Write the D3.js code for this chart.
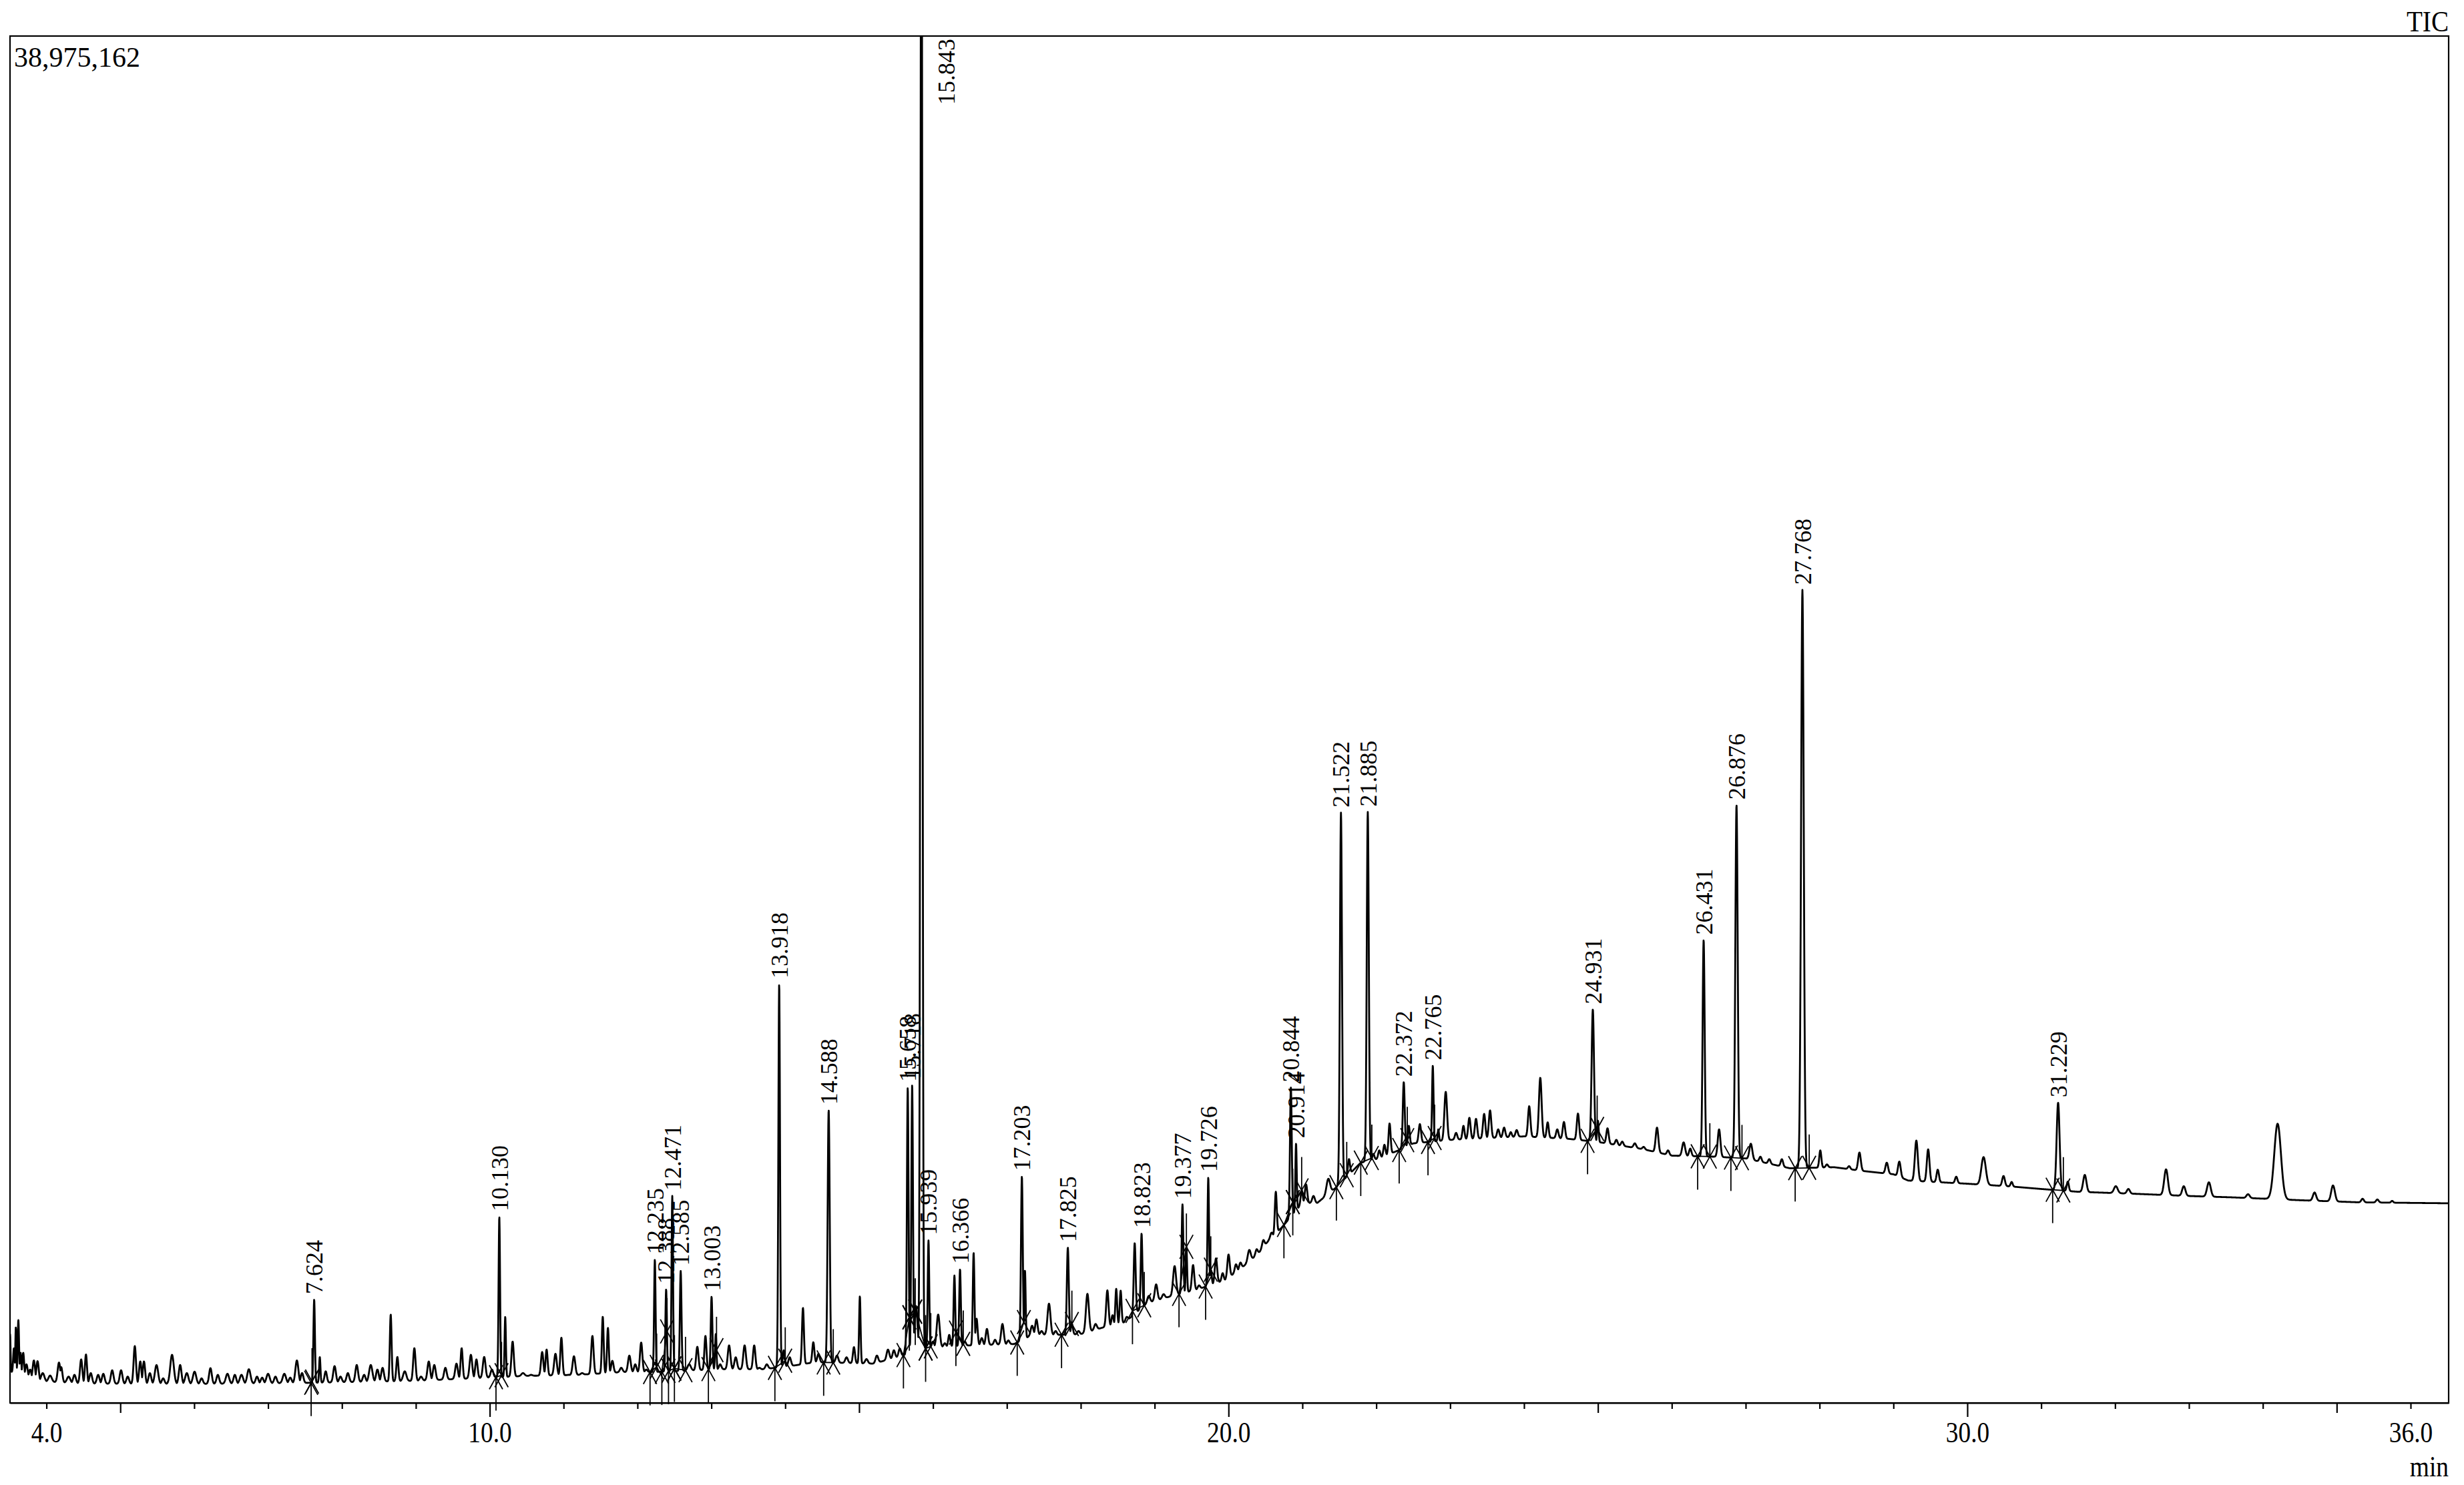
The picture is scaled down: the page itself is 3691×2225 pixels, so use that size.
<!DOCTYPE html>
<html>
<head>
<meta charset="utf-8">
<script src="https://cdn.jsdelivr.net/npm/d3@7"></script>
<style>
  html, body { margin: 0; padding: 0; background: #fff; }
  svg { display: block; font-family: "Liberation Serif", "Times New Roman", serif; }
</style>
</head>
<body>
<svg id="chart" width="3691" height="2225"></svg>
<script>
// TIC chromatogram, time in min, intensity in millions of counts

const fullScale = 38975162
const timeRange = [3.507, 36.515]
const tickLabels = [4, 10, 20, 30, 36]

const baseTimes = [3.5, 3.7, 3.9, 4.5, 6.0, 7.5, 9.0, 10.5, 11.2, 11.8, 12.2, 13.1, 13.7, 14.1, 14.4,
  15.2, 15.5, 15.95, 16.5, 17.1, 17.35, 17.7, 18.0, 18.3, 18.6, 18.9, 19.15, 19.6, 19.95, 20.15,
  20.4, 20.55, 20.72, 21.0, 21.2, 21.46, 21.79, 22.0, 22.3, 22.5, 23.0, 24.0, 24.6, 25.0, 25.3,
  25.6, 26.0, 26.6, 27.0, 27.6, 28.2, 28.6, 29.0, 29.2, 30.0, 30.6, 31.0, 31.5, 32.3, 33.0,
  33.6, 34.5, 35.3, 36.6]
const baseLevels = [0.9, 0.75, 0.62, 0.55, 0.54, 0.57, 0.63, 0.77, 0.8, 0.88, 0.88, 0.96, 0.96, 1.06, 1.16,
  1.12, 1.3, 1.58, 1.64, 1.68, 1.95, 1.94, 1.96, 2.15, 2.3, 2.85, 3.0, 3.25, 3.5, 3.8,
  4.25, 4.65, 5.0, 5.7, 5.7, 6.15, 6.85, 6.95, 7.2, 7.4, 7.5, 7.6, 7.53, 7.44, 7.34,
  7.24, 7.05, 7.02, 6.97, 6.69, 6.72, 6.61, 6.52, 6.34, 6.25, 6.17, 6.1, 6.02, 5.96, 5.9,
  5.86, 5.78, 5.72, 5.69]

// peaks: [retention time, apex level, width (sigma, min)]
const peakRows = [
  [3.507, 1.97, .007], [3.56, 1.56, .01], [3.586, 2.16, .007], [3.62, 2.37, .009], [3.65, 1.43, .01],
  [3.686, 1.43, .012], [3.73, 1.1, .016], [3.78, 0.95, .016], [3.83, 1.21, .016], [3.88, 1.19, .016],
  [3.95, 0.85, .022], [4.05, 0.78, .022], [4.17, 1.15, .018], [4.20, 1.02, .016], [4.30, 0.75, .022],
  [4.38, 0.8, .018], [4.47, 1.24, .016], [4.535, 1.38, .014], [4.60, 0.85, .018], [4.70, 0.8, .018],
  [4.77, 0.83, .018], [4.89, 0.93, .018], [5.01, 0.93, .018], [5.10, 0.75, .018], [5.196, 1.62, .016],
  [5.27, 1.18, .016], [5.32, 1.18, .016], [5.40, 0.85, .018], [5.49, 1.08, .022], [5.58, 0.7, .018],
  [5.70, 1.37, .024], [5.81, 1.08, .018], [5.90, 0.85, .022], [6.005, 0.89, .022], [6.10, 0.7, .018],
  [6.22, 0.99, .018], [6.32, 0.8, .018], [6.45, 0.83, .022], [6.55, 0.8, .018], [6.64, 0.8, .022],
  [6.74, 0.96, .022], [6.85, 0.75, .018], [6.92, 0.72, .018], [7.00, 0.83, .022], [7.10, 0.75, .018],
  [7.22, 0.83, .022], [7.30, 0.72, .018], [7.39, 1.21, .02], [7.46, 0.85, .018], [7.624, 2.95, .01],
  [7.70, 1.31, .009], [7.78, 0.9, .016], [7.90, 1.05, .018], [7.98, 0.75, .018], [8.08, 0.85, .018],
  [8.20, 1.08, .018], [8.30, 0.8, .018], [8.39, 1.08, .022], [8.48, 0.95, .018], [8.55, 1.0, .018],
  [8.66, 2.52, .012], [8.75, 1.31, .014], [8.85, 0.9, .022], [8.98, 1.56, .016],
  [9.07, 0.75, .018], [9.175, 1.18, .018], [9.25, 1.08, .018], [9.40, 1.0, .018], [9.55, 1.12, .018],
  [9.62, 1.56, .014], [9.745, 1.37, .018], [9.82, 1.24, .016], [9.925, 1.31, .018], [10.03, 0.95, .018],
  [10.130, 5.31, .01], [10.21, 2.46, .009], [10.31, 1.75, .016], [10.45, 0.85, .022], [10.56, 0.8, .018],
  [10.71, 1.45, .016], [10.77, 1.52, .014], [10.89, 1.40, .018], [10.97, 1.86, .014], [11.07, 0.8, .018],
  [11.14, 1.33, .018], [11.25, 0.85, .018], [11.39, 1.91, .016], [11.53, 2.46, .012], [11.60, 2.14, .012],
  [11.66, 1.2, .016], [11.78, 1.0, .018], [11.89, 1.35, .018], [11.97, 1.1, .016], [12.05, 1.72, .016],
  [12.12, 0.95, .016], [12.235, 4.09, .01], [12.388, 3.24, .01], [12.471, 5.90, .01], [12.585, 3.76, .011],
  [12.70, 1.1, .022], [12.81, 1.6, .016], [12.92, 1.91, .014], [13.003, 3.03, .011], [13.06, 1.97, .009],
  [13.12, 1.1, .016], [13.24, 1.64, .018], [13.33, 1.3, .018], [13.45, 1.64, .018], [13.58, 1.64, .016],
  [13.65, 1.0, .016], [13.75, 1.1, .018], [13.918, 11.95, .011], [13.98, 1.5, .014], [14.06, 1.3, .018],
  [14.24, 2.71, .013], [14.38, 1.73, .014], [14.45, 1.4, .016],
  [14.588, 8.35, .014], [14.70, 1.35, .018], [14.83, 1.3, .018], [14.93, 1.59, .014], [15.01, 3.04, .01],
  [15.10, 1.25, .018], [15.24, 1.35, .018], [15.39, 1.52, .018], [15.47, 1.5, .016], [15.55, 1.55, .016],
  [15.658, 9.0, .011], [15.718, 9.08, .011], [15.77, 2.76, .02], [15.843, 48.0, .013], [15.939, 4.63, .01],
  [16.00, 1.75, .016], [16.07, 2.52, .02], [16.16, 1.7, .016], [16.22, 1.94, .014], [16.29, 3.63, .011],
  [16.366, 3.81, .011], [16.43, 1.75, .016], [16.55, 4.28, .011], [16.59, 2.4, .014], [16.66, 1.85, .016],
  [16.73, 2.11, .016], [16.84, 1.8, .016], [16.94, 2.25, .018], [17.02, 1.78, .016], [17.203, 6.46, .012],
  [17.245, 3.78, .009], [17.34, 2.2, .018], [17.40, 2.38, .016], [17.47, 2.05, .016], [17.57, 2.83, .02],
  [17.66, 2.05, .016], [17.825, 4.43, .013], [17.88, 2.25, .014], [17.97, 2.05, .016], [18.09, 3.11, .02],
  [18.20, 2.25, .018], [18.36, 3.21, .016], [18.43, 2.5, .014], [18.48, 3.25, .012], [18.54, 3.2, .012],
  [18.62, 2.45, .016], [18.73, 4.56, .013], [18.823, 4.83, .011], [18.92, 3.05, .018], [19.02, 3.38, .018],
  [19.12, 3.1, .018], [19.27, 3.9, .02], [19.377, 5.66, .011], [19.43, 4.45, .009], [19.52, 3.93, .016],
  [19.60, 3.35, .016], [19.726, 6.43, .01], [19.76, 3.8, .012],
  [19.83, 4.12, .016], [19.92, 3.7, .014], [20.0, 4.23, .016], [20.10, 3.95, .016], [20.16, 4.0, .016],
  [20.28, 4.36, .02], [20.38, 4.38, .016], [20.47, 4.64, .016], [20.58, 4.85, .016], [20.64, 6.02, .013],
  [20.844, 8.99, .012], [20.914, 7.40, .009], [20.99, 6.06, .014], [21.05, 6.23, .016], [21.15, 5.9, .018],
  [21.35, 6.39, .024], [21.522, 16.83, .014], [21.63, 6.95, .014], [21.885, 16.85, .014], [21.96, 7.1, .014],
  [22.04, 7.2, .014], [22.11, 7.36, .014], [22.18, 7.97, .014], [22.372, 9.15, .013], [22.44, 7.9, .013],
  [22.59, 7.95, .016], [22.765, 9.62, .01], [22.84, 7.8, .009], [22.94, 8.87, .018], [23.08, 7.7, .016],
  [23.18, 7.9, .014], [23.26, 8.13, .016], [23.35, 8.1, .016], [23.46, 8.24, .016], [23.54, 8.34, .016],
  [23.65, 7.8, .016], [23.73, 7.85, .016], [23.82, 7.72, .014], [23.90, 7.78, .016], [24.07, 8.46, .016],
  [24.22, 9.27, .018], [24.32, 8.0, .014], [24.45, 7.8, .016], [24.54, 8.01, .016], [24.73, 8.25, .016],
  [24.931, 11.22, .016], [25.0, 8.05, .01], [25.13, 7.83, .016], [25.25, 7.5, .016], [25.33, 7.45, .016],
  [25.50, 7.4, .018], [25.62, 7.3, .016], [25.80, 7.85, .018], [25.95, 7.2, .016], [26.16, 7.43, .02],
  [26.25, 7.25, .016], [26.431, 13.2, .014], [26.64, 7.80, .018], [26.876, 17.05, .016], [27.07, 7.39, .02],
  [27.20, 7.02, .016], [27.32, 6.95, .016], [27.49, 6.95, .016], [27.768, 23.18, .018], [28.01, 7.2, .014],
  [28.10, 6.8, .016], [28.40, 6.75, .016], [28.54, 7.14, .018], [28.91, 6.85, .018], [29.08, 6.88, .018],
  [29.31, 7.48, .02], [29.47, 7.23, .018], [29.60, 6.65, .016], [29.85, 6.45, .016], [30.22, 7.01, .03],
  [30.49, 6.47, .018], [30.60, 6.3, .014],
  [31.229, 8.56, .02], [31.36, 6.31, .014], [31.59, 6.5, .022], [32.01, 6.18, .025], [32.18, 6.1, .02],
  [32.69, 6.66, .025], [32.93, 6.18, .022], [33.27, 6.29, .025], [33.80, 5.95, .022], [34.20, 7.96, .045],
  [34.70, 6.0, .022], [34.95, 6.2, .025], [35.35, 5.82, .018], [35.55, 5.8, .018], [35.75, 5.76, .014]
]

// integrated (labelled) peaks with their start and end times
const labelTimes = [7.624, 10.130, 12.235, 12.388, 12.471, 12.585, 13.003, 13.918, 14.588, 15.658,
  15.718, 15.843, 15.939, 16.366, 17.203, 17.825, 18.823, 19.377, 19.726, 20.844,
  20.914, 21.522, 21.885, 22.372, 22.765, 24.931, 26.431, 26.876, 27.768, 31.229]
const labelStart = [7.583, 10.085, 12.17, 12.33, 12.42, 12.50, 12.96, 13.86, 14.52, 15.60,
  15.68, 15.76, 15.90, 16.31, 17.14, 17.74, 18.70, 19.33, 19.69, 20.75,
  20.87, 21.46, 21.79, 22.31, 22.70, 24.86, 26.35, 26.80, 27.67, 31.155]
const labelEnd = [7.595, 10.16, 12.26, 12.40, 12.50, 12.65, 13.07, 14.00, 14.65, 15.68,
  15.76, 15.90, 15.97, 16.41, 17.23, 17.88, 18.86, 19.43, 19.76, 20.87,
  20.99, 21.60, 21.94, 22.42, 22.79, 24.99, 26.515, 26.95, 27.86, 31.30]

const svg = d3.select('#chart')
const plot = { left: 15, right: 3668, top: 54, bottom: 2102 }

const x = d3.scaleLinear().domain(timeRange).range([plot.left, plot.right])
const y = d3.scaleLinear().domain([0, fullScale / 1e6]).range([plot.bottom, plot.top])
const baseline = d3.scaleLinear().domain(baseTimes).range(baseLevels).clamp(true)

// peak amplitude above the drifting baseline
const peaks = peakRows.map(([rt, apex, s]) => ({ rt, s, amp: apex - baseline(rt) }))

function signal(t) {
  let m = 0
  for (const p of peaks) {
    const d = t - p.rt
    if (Math.abs(d) > 5 * p.s) continue
    const v = p.amp * Math.exp(-(d * d) / (2 * p.s * p.s))
    if (v > m) m = v
  }
  return baseline(t) + m
}

// clip for the trace
svg.append('clipPath').attr('id', 'plotClip')
  .append('rect')
  .attr('x', plot.left).attr('y', plot.top)
  .attr('width', plot.right - plot.left).attr('height', plot.bottom - plot.top)

// trace
const times = d3.range(timeRange[0], timeRange[1], 0.003)
const line = d3.line().x(t => x(t)).y(t => y(signal(t)))

svg.append('path')
  .datum(times)
  .attr('clip-path', 'url(#plotClip)')
  .attr('d', line)
  .attr('fill', 'none')
  .attr('stroke', '#000')
  .attr('stroke-width', 2.8)
  .attr('stroke-linejoin', 'round')

// integration marks: baseline segment, cross at start/end with a vertical stem
const marks = svg.append('g')
  .attr('stroke', '#000')
  .attr('stroke-width', 1.8)
  .attr('fill', 'none')

labelTimes.forEach((rt, i) => {
  const pts = [labelStart[i], labelEnd[i]].map(t => [x(t), y(signal(t))])
  marks.append('line')
    .attr('x1', pts[0][0]).attr('y1', pts[0][1])
    .attr('x2', pts[1][0]).attr('y2', pts[1][1])
  pts.forEach(([px, py], k) => {
    marks.append('line')
      .attr('x1', px - 10).attr('y1', py - 18)
      .attr('x2', px + 10).attr('y2', py + 18)
    marks.append('line')
      .attr('x1', px - 10).attr('y1', py + 18)
      .attr('x2', px + 10).attr('y2', py - 18)
    marks.append('line')
      .attr('x1', px).attr('y1', py)
      .attr('x2', px).attr('y2', k === 0 ? py + 50 : py - 50)
  })
})

// peak labels
const fmtRT = d3.format('.3f')
labelTimes.forEach(rt => {
  const px = x(rt)
  const py = y(signal(rt))
  const clipped = py < plot.top
  svg.append('text')
    .attr('transform', clipped
      ? `translate(${px + 37},${plot.top + 4}) rotate(-90)`
      : `translate(${px},${py - 8}) rotate(-90)`)
    .attr('text-anchor', clipped ? 'end' : 'start')
    .attr('dy', '0.35em')
    .attr('font-size', 36)
    .text(fmtRT(rt))
})

// frame
svg.append('rect')
  .attr('x', plot.left).attr('y', plot.top)
  .attr('width', plot.right - plot.left).attr('height', plot.bottom - plot.top)
  .attr('fill', 'none')
  .attr('stroke', '#000')
  .attr('stroke-width', 2.2)

// x axis: a tick every minute, longer every 5 and 10
const axis = d3.axisBottom(x)
  .tickValues(d3.range(4, 37))
  .tickSize(9)
  .tickSizeOuter(0)
  .tickFormat(d => tickLabels.includes(d) ? d3.format('.1f')(d) : '')

const gx = svg.append('g')
  .attr('transform', `translate(0,${plot.bottom})`)
  .call(axis)

gx.select('.domain').attr('stroke-width', 2.2)
gx.selectAll('.tick line')
  .attr('stroke-width', 2.2)
  .attr('y2', d => d % 10 === 0 ? 21 : d % 5 === 0 ? 15 : 9)
gx.selectAll('.tick text')
  .attr('y', 0)
  .attr('dy', 0)
  .attr('transform', 'translate(0,59) scale(0.85,1)')
  .attr('font-family', '"Liberation Serif", "Times New Roman", serif')
  .attr('font-size', 44)
  .attr('fill', '#000')

// header and unit texts
svg.append('text')
  .attr('x', 21).attr('y', 100)
  .attr('font-size', 42)
  .text(d3.format(',')(fullScale))

svg.append('text')
  .attr('transform', `translate(${plot.right},47) scale(0.89,1)`)
  .attr('text-anchor', 'end')
  .attr('font-size', 44)
  .text('TIC')

svg.append('text')
  .attr('transform', `translate(${plot.right},2212) scale(0.85,1)`)
  .attr('text-anchor', 'end')
  .attr('font-size', 44)
  .text('min')
</script>
</body>
</html>
